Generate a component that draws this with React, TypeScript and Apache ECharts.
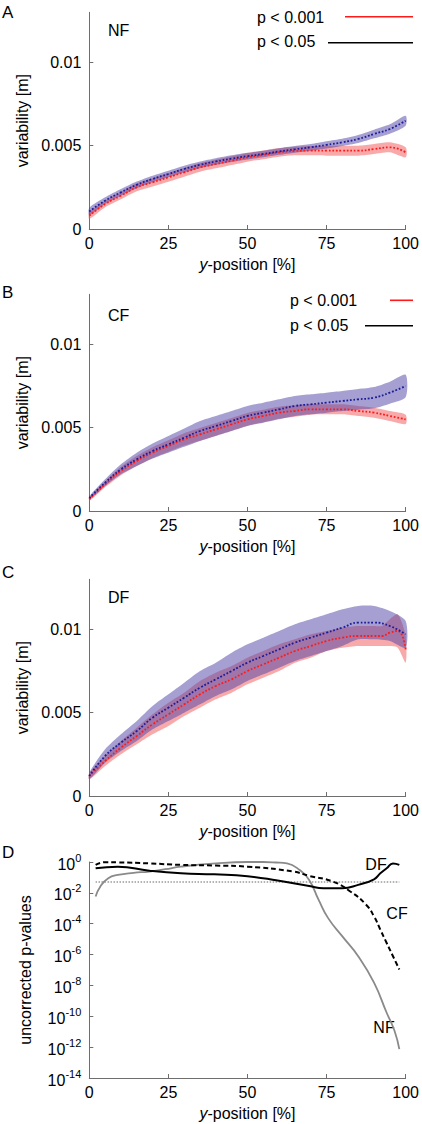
import React, { useEffect, useRef } from "react";
import * as echarts from "echarts";

// ---------- data ----------
const positions = [0, 5, 10, 15, 20, 25, 30, 35, 40, 45, 50, 55, 60, 65, 70, 75, 80, 85, 90, 95, 100];
const variabilityTicks = [0, 0.005, 0.01];

// Panel A (NF)
const nfBlueMean = [0.00105, 0.0017, 0.0022, 0.00265, 0.003, 0.0033, 0.0036, 0.00385, 0.00405, 0.00422, 0.00437, 0.0045, 0.00465, 0.00478, 0.0049, 0.00505, 0.0052, 0.0054, 0.0057, 0.006, 0.0065];
const nfBlueSpread = [0.00022, 0.0002, 0.0002, 0.0002, 0.0002, 0.0002, 0.0002, 0.0002, 0.0002, 0.0002, 0.0002, 0.0002, 0.0002, 0.0002, 0.0002, 0.00022, 0.00022, 0.00024, 0.00026, 0.00028, 0.0003];
const nfRedMean = [0.0008, 0.0015, 0.002, 0.0025, 0.0028, 0.0031, 0.0034, 0.0037, 0.0039, 0.0041, 0.0043, 0.00445, 0.0046, 0.00468, 0.0047, 0.0047, 0.0047, 0.0047, 0.0048, 0.0049, 0.0046];
const nfRedSpread = [0.0002, 0.0002, 0.00022, 0.00024, 0.00025, 0.00026, 0.00026, 0.00026, 0.00026, 0.00026, 0.00026, 0.00026, 0.00026, 0.00026, 0.00028, 0.0003, 0.0003, 0.0003, 0.0003, 0.0003, 0.0003];

// Panel B (CF)
const cfBlueMean = [0.00078, 0.0017, 0.0025, 0.0031, 0.0036, 0.004, 0.0044, 0.0048, 0.0051, 0.0054, 0.0057, 0.0059, 0.0061, 0.0063, 0.0064, 0.0065, 0.0066, 0.0067, 0.0068, 0.0071, 0.0075];
const cfBlueSpread = [0.0001, 0.0002, 0.0003, 0.0004, 0.00045, 0.0005, 0.00055, 0.0006, 0.0006, 0.0006, 0.0006, 0.0006, 0.0006, 0.0006, 0.0006, 0.0006, 0.0006, 0.00062, 0.00064, 0.00066, 0.00068];
const cfRedMean = [0.0007, 0.0016, 0.0024, 0.003, 0.0035, 0.0039, 0.0043, 0.0046, 0.0049, 0.0052, 0.0055, 0.0057, 0.0059, 0.006, 0.0061, 0.0061, 0.0061, 0.006, 0.0059, 0.0057, 0.0055];
const cfRedSpread = [0.0001, 0.00018, 0.00025, 0.0003, 0.00033, 0.00035, 0.00037, 0.00038, 0.00038, 0.00038, 0.00038, 0.00038, 0.00036, 0.00034, 0.00032, 0.0003, 0.0003, 0.0003, 0.0003, 0.0003, 0.00028];

// Panel C (DF)
const dfBlueMean = [0.0012, 0.0024, 0.0032, 0.0039, 0.0047, 0.0053, 0.0059, 0.0065, 0.007, 0.0075, 0.008, 0.0084, 0.0088, 0.0092, 0.0095, 0.0098, 0.0101, 0.0104, 0.0104, 0.0102, 0.0097];
const dfBlueSpread = [0.0002, 0.0004, 0.0005, 0.0006, 0.0007, 0.0008, 0.0009, 0.001, 0.001, 0.0011, 0.0011, 0.0011, 0.0011, 0.0011, 0.0011, 0.0011, 0.0011, 0.001, 0.001, 0.0009, 0.0008];
const dfRedPositions = [0, 5, 10, 15, 20, 25, 30, 35, 40, 45, 50, 55, 60, 65, 70, 75, 80, 85, 90, 92.5, 95, 97.5, 100];
const dfRedMean = [0.0012, 0.0021, 0.0029, 0.0036, 0.0043, 0.0049, 0.0055, 0.0061, 0.0066, 0.007, 0.0075, 0.0079, 0.0083, 0.0087, 0.009, 0.0093, 0.0095, 0.0096, 0.0096, 0.0096, 0.0098, 0.0099, 0.0088];
const dfRedSpread = [0.0002, 0.0003, 0.0004, 0.0005, 0.0006, 0.0007, 0.0007, 0.0008, 0.0008, 0.0008, 0.0008, 0.0008, 0.0008, 0.0007, 0.0007, 0.0006, 0.0006, 0.0006, 0.0006, 0.0006, 0.0008, 0.001, 0.0008];

// Panel D (uncorrected p-values)
const pDfPositions = [2, 9, 19, 29, 39.5, 50, 59.5, 69.5, 74, 80, 85, 90, 92, 94, 96, 98];
const pDfValues = [0.39, 0.5, 0.275, 0.186, 0.158, 0.12, 0.063, 0.028, 0.02, 0.02, 0.033, 0.076, 0.186, 0.39, 0.81, 0.65];
const pCfPositions = [2, 5, 9, 19, 29, 40, 50, 64.5, 69.5, 77, 82.5, 87.5, 90, 92, 94, 96, 98];
const pCfValues = [0.65, 0.97, 0.95, 0.81, 0.65, 0.59, 0.5, 0.24, 0.126, 0.054, 0.0123, 0.0017, 0.0003, 4.1e-5, 5.6e-6, 7.8e-7, 1.07e-7];
const pNfPositions = [2, 3.5, 6, 9, 14, 19, 24, 29, 40, 50, 55, 59, 62.5, 66.5, 69.5, 72.5, 75.5, 80, 85, 90, 94, 96.5, 98];
const pNfValues = [0.0058, 0.026, 0.089, 0.145, 0.2, 0.24, 0.34, 0.5, 0.81, 1.0, 1.0, 0.93, 0.81, 0.3, 0.069, 0.0035, 0.00023, 1.5e-5, 7.8e-7, 1.5e-8, 1.7e-10, 1.1e-11, 7.4e-13];
const thresholdPositions = [2, 98];
const thresholdValues = [0.05, 0.05];

// ---------- styling ----------
const FONT = "'Liberation Sans', Arial, Helvetica, sans-serif";
const AXIS_COLOR = "#6e6e6e";
const BLUE_BAND = "rgba(75,63,165,0.5)";
const RED_BAND = "rgba(241,85,85,0.5)";
const BLUE_LINE = "#1c1c96";
const RED_LINE = "#ff1a1a";

const GRID_LEFT = 89.3;
const GRID_WIDTH = 326.7;
const grids = [
  { left: GRID_LEFT, top: 12.3, width: GRID_WIDTH, height: 216.7 },
  { left: GRID_LEFT, top: 294.3, width: GRID_WIDTH, height: 216.7 },
  { left: GRID_LEFT, top: 579.3, width: GRID_WIDTH, height: 216.7 },
  { left: GRID_LEFT, top: 862, width: GRID_WIDTH, height: 216 },
];

function xAxisFor(i: number) {
  return {
    type: "value",
    gridIndex: i,
    min: 0,
    max: 100,
    interval: 25,
    name: "{i|y}-position [%]",
    nameLocation: "middle",
    nameGap: 27,
    nameTextStyle: {
      fontFamily: FONT,
      fontSize: 16,
      color: "#000",
      rich: { i: { fontStyle: "italic", fontFamily: FONT, fontSize: 16, color: "#000" } },
    },
    axisLine: { show: true, lineStyle: { color: AXIS_COLOR, width: 1 } },
    axisTick: { show: true, inside: true, length: 4, lineStyle: { color: AXIS_COLOR } },
    axisLabel: { fontFamily: FONT, fontSize: 16, color: "#000", margin: 6 },
    splitLine: { show: false },
  };
}

function yAxisVar(i: number) {
  return {
    type: "value",
    gridIndex: i,
    min: 0,
    max: 0.013,
    name: "variability [m]",
    nameLocation: "middle",
    nameGap: 56,
    nameTextStyle: { fontFamily: FONT, fontSize: 16, color: "#000" },
    axisLine: { show: true, lineStyle: { color: AXIS_COLOR, width: 1 } },
    axisTick: { show: true, inside: true, length: 4, lineStyle: { color: AXIS_COLOR }, customValues: variabilityTicks },
    axisLabel: {
      fontFamily: FONT,
      fontSize: 16,
      color: "#000",
      margin: 8,
      customValues: variabilityTicks,
      formatter: (v: number) => String(+(+v).toFixed(4)),
    },
    splitLine: { show: false },
  };
}

function band(xs: number[], mean: number[], spread: number[], color: string, gi: number) {
  return {
    type: "custom",
    xAxisIndex: gi,
    yAxisIndex: gi,
    silent: true,
    z: 1,
    data: [[xs[0], mean[0]]],
    renderItem: (_params: any, api: any) => {
      const upper = xs.map((x, k) => api.coord([x, mean[k] + spread[k]]));
      const lower = xs.map((x, k) => api.coord([x, mean[k] - spread[k]])).reverse();
      const pts = upper.concat(lower);
      return {
        type: "polygon",
        shape: { points: pts, smooth: 0.25 },
        style: { fill: color },
      };
    },
  };
}

function meanLine(xs: number[], mean: number[], color: string, gi: number, z: number) {
  return {
    type: "line",
    xAxisIndex: gi,
    yAxisIndex: gi,
    data: xs.map((x, k) => [x, mean[k]]),
    smooth: true,
    showSymbol: false,
    symbol: "none",
    silent: true,
    z,
    lineStyle: { color, width: 1.8, type: "dotted" },
  };
}

function pLine(xs: number[], vals: number[], color: string, type: any, width: number) {
  return {
    type: "line",
    xAxisIndex: 3,
    yAxisIndex: 3,
    data: xs.map((x, k) => [x, vals[k]]),
    smooth: true,
    showSymbol: false,
    symbol: "none",
    silent: true,
    z: 3,
    lineStyle: { color, width, type },
  };
}

function txt(x: number, y: number, text: string, align = "left", size = 16) {
  return {
    type: "text",
    x,
    y,
    silent: true,
    style: { text, fill: "#000", font: `${size}px ${FONT}`, align, verticalAlign: "middle" },
  };
}

function seg(x1: number, y: number, x2: number, color: string) {
  return {
    type: "line",
    silent: true,
    shape: { x1, y1: y, x2, y2: y },
    style: { stroke: color, lineWidth: 1.6 },
  };
}

export default function App() {
  const ref = useRef<HTMLDivElement>(null);

  useEffect(() => {
    if (!ref.current) return;
    const chart = echarts.init(ref.current, undefined, { renderer: "svg" });

    const option: any = {
      animation: false,
      grid: grids,
      xAxis: [xAxisFor(0), xAxisFor(1), xAxisFor(2), xAxisFor(3)],
      yAxis: [
        yAxisVar(0),
        yAxisVar(1),
        yAxisVar(2),
        {
          type: "log",
          gridIndex: 3,
          logBase: 100,
          min: 1e-14,
          max: 1,
          name: "uncorrected p-values",
          nameLocation: "middle",
          nameGap: 56,
          nameTextStyle: { fontFamily: FONT, fontSize: 16, color: "#000" },
          axisLine: { show: true, lineStyle: { color: AXIS_COLOR, width: 1 } },
          axisTick: { show: true, inside: true, length: 4, lineStyle: { color: AXIS_COLOR } },
          axisLabel: {
            margin: 8,
            formatter: (v: number) => `{b|10}{s|${Math.round(Math.log10(v))}}`,
            rich: {
              b: { fontFamily: FONT, fontSize: 16, color: "#000", lineHeight: 20, verticalAlign: "bottom" },
              s: { fontFamily: FONT, fontSize: 11, color: "#000", lineHeight: 12, verticalAlign: "top" },
            },
          },
          splitLine: { show: false },
        },
      ],
      series: [
        band(positions, nfRedMean, nfRedSpread, RED_BAND, 0),
        band(positions, nfBlueMean, nfBlueSpread, BLUE_BAND, 0),
        meanLine(positions, nfRedMean, RED_LINE, 0, 3),
        meanLine(positions, nfBlueMean, BLUE_LINE, 0, 4),

        band(positions, cfRedMean, cfRedSpread, RED_BAND, 1),
        band(positions, cfBlueMean, cfBlueSpread, BLUE_BAND, 1),
        meanLine(positions, cfRedMean, RED_LINE, 1, 3),
        meanLine(positions, cfBlueMean, BLUE_LINE, 1, 4),

        band(dfRedPositions, dfRedMean, dfRedSpread, RED_BAND, 2),
        band(positions, dfBlueMean, dfBlueSpread, BLUE_BAND, 2),
        meanLine(dfRedPositions, dfRedMean, RED_LINE, 2, 3),
        meanLine(positions, dfBlueMean, BLUE_LINE, 2, 4),

        pLine(thresholdPositions, thresholdValues, "#9a9a9a", "dotted", 1.5),
        pLine(pNfPositions, pNfValues, "#8a8a8a", "solid", 1.8),
        pLine(pCfPositions, pCfValues, "#000", [5, 3], 2),
        pLine(pDfPositions, pDfValues, "#000", "solid", 2),
      ],
      graphic: [
        txt(2, 12, "A", "left", 17),
        txt(2, 292, "B", "left", 17),
        txt(2, 572, "C", "left", 17),
        txt(2, 852, "D", "left", 17),

        txt(108, 30, "NF"),
        txt(108, 315, "CF"),
        txt(108, 597, "DF"),

        txt(257, 17.5, "p < 0.001"),
        seg(345, 16.7, 413, "#ff1a1a"),
        txt(257, 41.7, "p < 0.05"),
        seg(328, 42.7, 413, "#000"),

        txt(290, 300.8, "p < 0.001"),
        seg(390, 300.3, 413, "#ff1a1a"),
        txt(290, 325, "p < 0.05"),
        seg(365, 325.7, 413, "#000"),

        txt(376, 864, "DF", "center"),
        txt(397, 913, "CF", "center"),
        txt(384, 1027, "NF", "center"),
      ],
    };

    chart.setOption(option);
    return () => chart.dispose();
  }, []);

  return (
    <div
      ref={ref}
      style={{ position: "absolute", left: 0, top: 0, width: 422, height: 1124, background: "#fff" }}
    />
  );
}
